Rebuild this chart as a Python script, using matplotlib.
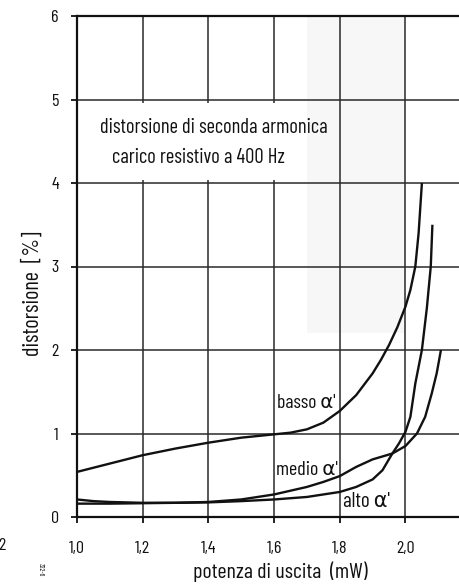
import matplotlib
matplotlib.use("Agg")
import matplotlib.pyplot as plt
from matplotlib.patches import Rectangle
from matplotlib import font_manager

names = {f.name for f in font_manager.fontManager.ttflist}
base = 'DejaVu Sans'
for cand in ['Barlow Condensed', 'Barlow Semi Condensed', 'Archivo Narrow',
             'Liberation Sans Narrow']:
    if cand in names:
        base = cand
        break
FAM = [base, 'DejaVu Sans'] if base != 'DejaVu Sans' else ['DejaVu Sans']
plt.rcParams['font.family'] = FAM

# ---- data ----
x_ticks = [1.0, 1.2, 1.4, 1.6, 1.8, 2.0]
x_tick_labels = ["1,0", "1,2", "1,4", "1,6", "1,8", "2,0"]
y_ticks = [0, 1, 2, 3, 4, 5, 6]
y_tick_labels = ["0", "1", "2", "3", "4", "5", "6"]

basso_x = [1.0, 1.1, 1.2, 1.3, 1.4, 1.5, 1.6, 1.65, 1.7, 1.75, 1.8, 1.85, 1.9,
           1.925, 1.95, 1.975, 2.0, 2.015, 2.03, 2.04, 2.05]
basso_y = [0.54, 0.64, 0.74, 0.82, 0.89, 0.95, 0.99, 1.01, 1.05, 1.13, 1.27, 1.46,
           1.72, 1.88, 2.06, 2.27, 2.52, 2.72, 3.0, 3.4, 4.0]

medio_x = [1.0, 1.05, 1.1, 1.2, 1.3, 1.4, 1.5, 1.6, 1.7, 1.75, 1.8, 1.85, 1.9,
           1.96, 2.0, 2.035, 2.06, 2.08, 2.095, 2.108]
medio_y = [0.21, 0.19, 0.18, 0.17, 0.17, 0.18, 0.21, 0.27, 0.36, 0.42, 0.49, 0.60,
           0.69, 0.76, 0.85, 1.0, 1.2, 1.48, 1.72, 2.0]

alto_x = [1.0, 1.1, 1.2, 1.3, 1.4, 1.5, 1.6, 1.7, 1.8, 1.85, 1.9, 1.93, 1.96,
          1.98, 2.0, 2.015, 2.03, 2.05, 2.065, 2.077, 2.082]
alto_y = [0.16, 0.16, 0.165, 0.17, 0.175, 0.19, 0.21, 0.24, 0.30, 0.36, 0.45, 0.56,
          0.76, 0.88, 1.02, 1.2, 1.6, 2.0, 2.5, 3.0, 3.5]

title_lines = ["distorsione di seconda armonica", "carico resistivo a 400 Hz"]
curve_labels = ["basso α'", "medio α'", "alto α'"]
x_label = "potenza di uscita  (mW)"
y_label = "distorsione  [%]"

# ---- figure ----
W, H = 460, 584
fig = plt.figure(figsize=(W / 100, H / 100), dpi=100)
ax = fig.add_axes([77 / W, 1 - 517 / H, (W - 77) / W, (517 - 16) / H])
ax.set_xlim(1.0, 2.166)
ax.set_ylim(0, 6)
renderer = fig.canvas.get_renderer()


def fit(t, target_px, lo=8, hi=16):
    """Scale a text's size so its long side spans roughly target_px pixels."""
    fs0 = t.get_fontsize()
    bb = t.get_window_extent(renderer)
    w = max(bb.width, bb.height)
    fs = fs0 * target_px / w if w > 0 else fs0
    t.set_fontsize(max(lo, min(hi, fs)))
    return t


ink = '#111111'
ax.set_axisbelow(True)
ax.grid(True, color='#2a2a2a', linewidth=1.1)

# faint scan shading
ax.add_patch(Rectangle((1.70, 2.2), 0.30, 3.8, facecolor='#f7f7f7',
                       edgecolor='none', zorder=0.4))
# white box behind the title text
ax.add_patch(Rectangle((1.0, 4.04), 0.70, 0.92, facecolor='white',
                       edgecolor='none', zorder=1))

for xs, ys in [(basso_x, basso_y), (medio_x, medio_y), (alto_x, alto_y)]:
    ax.plot(xs, ys, color=ink, lw=1.7, zorder=3, solid_capstyle='butt')

ax.set_xticks(x_ticks)
ax.set_xticklabels(x_tick_labels)
ax.set_yticks(y_ticks)
ax.set_yticklabels(y_tick_labels)
ax.tick_params(axis='both', direction='out', length=4, width=1.3, colors=ink,
               labelsize=13)
ax.tick_params(axis='x', pad=13)
ax.tick_params(axis='y', pad=9)

ax.spines['right'].set_visible(False)
for s in ['left', 'bottom', 'top']:
    ax.spines[s].set_linewidth(1.6)
    ax.spines[s].set_color(ink)

fit(ax.text(1.07, 4.67, title_lines[0], fontsize=12, color=ink, va='center',
            ha='left', zorder=4), 228)
fit(ax.text(1.107, 4.31, title_lines[1], fontsize=12, color=ink, va='center',
            ha='left', zorder=4), 173)

fit(ax.text(1.61, 1.37, curve_labels[0], fontsize=12, color=ink, va='center',
            ha='left', zorder=4), 58)
fit(ax.text(1.605, 0.56, curve_labels[1], fontsize=12, color=ink, va='center',
            ha='left', zorder=4), 62)
fit(ax.text(1.81, 0.18, curve_labels[2], fontsize=12, color=ink, va='center',
            ha='left', zorder=4), 47)

# partially visible neighbouring tick label at right edge
ax.text(2.2, -0.36, "2,2", fontsize=13, color=ink, ha='center', va='center',
        clip_on=False)

fit(fig.text(280 / W, 1 - 572 / H, x_label, fontsize=12, color=ink,
             ha='center', va='center'), 174)
fit(fig.text(33 / W, 1 - 294 / H, y_label, fontsize=12, color=ink,
             ha='center', va='center', rotation=90), 162)

# scan artefacts from the page
fig.text(-2 / W, 1 - 545 / H, "2", fontsize=13, color=ink, ha='left', va='center')
fig.text(40 / W, 1 - 570 / H, "322-6", fontsize=5, color=ink, ha='center',
         va='center', rotation=270)

fig.savefig("out.png", dpi=100)
